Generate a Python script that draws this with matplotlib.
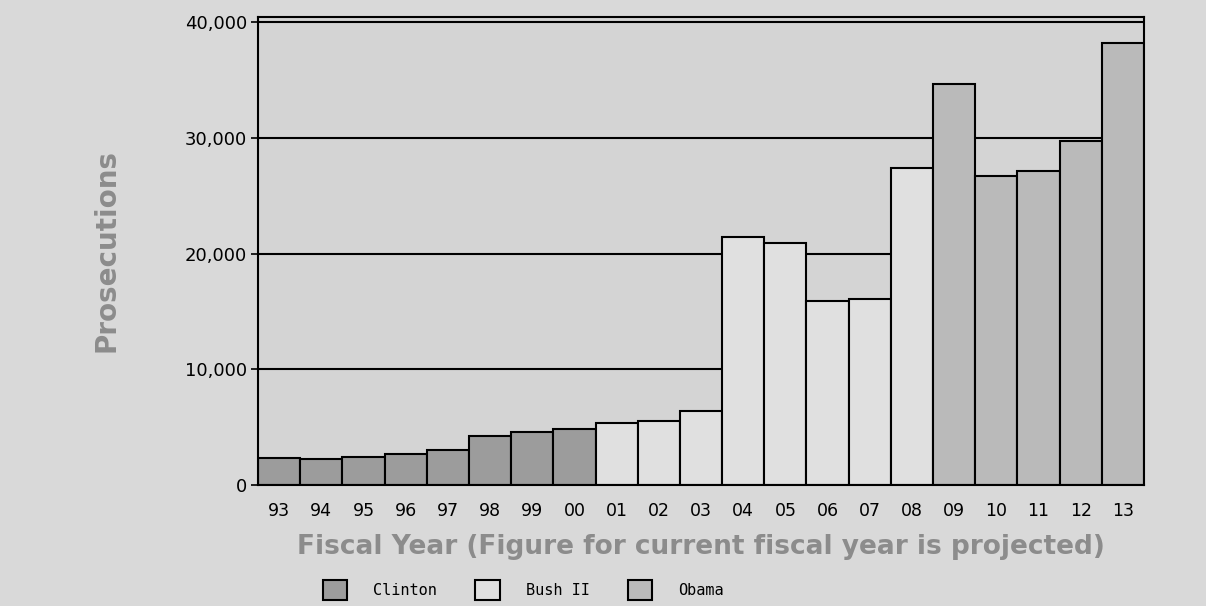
import matplotlib.pyplot as plt
from matplotlib.patches import Patch

years = ['93', '94', '95', '96', '97', '98', '99', '00', '01', '02', '03',
         '04', '05', '06', '07', '08', '09', '10', '11', '12', '13']
prosecutions = [2300, 2250, 2450, 2650, 3000, 4200, 4550, 4850, 5400, 5500, 6400,
                21400, 20900, 15900, 16100, 27400, 34700, 26700, 27100, 29700, 38200]
president = ['Clinton'] * 8 + ['Bush II'] * 8 + ['Obama'] * 5
party_names = ['Clinton', 'Bush II', 'Obama']
party_colors = {'Clinton': '#9c9c9c', 'Bush II': '#e0e0e0', 'Obama': '#bababa'}

bg = '#d9d9d9'
plot_bg = '#d4d4d4'
label_gray = '#8c8c8c'

fig = plt.figure(figsize=(12.06, 6.06), dpi=100, facecolor=bg)
ax = fig.add_axes([258 / 1206, 1 - 485 / 606, (1144 - 258) / 1206, (485 - 17) / 606])
ax.set_facecolor(plot_bg)

# grid behind the bars
for y in [10000, 20000, 30000, 40000]:
    ax.axhline(y, color='black', lw=1.5, zorder=1)

x = list(range(len(years)))
ax.bar(x, prosecutions, width=1.0, color=[party_colors[p] for p in president],
       edgecolor='black', linewidth=1.5, zorder=2)

ax.set_xlim(-0.5, len(years) - 0.5)
ax.set_ylim(0, 40450)
ax.set_yticks([0, 10000, 20000, 30000, 40000])
ax.set_yticklabels(['0', '10,000', '20,000', '30,000', '40,000'])
ax.set_xticks(x)
ax.set_xticklabels(years)
ax.tick_params(axis='y', length=5, width=1.2, labelsize=13, pad=3)
ax.tick_params(axis='x', length=0, labelsize=12.5, pad=12)
for s in ax.spines.values():
    s.set_linewidth(1.5)

ax.set_ylabel('Prosecutions', fontsize=20, fontweight='bold', color=label_gray, labelpad=46)
ax.set_xlabel('Fiscal Year (Figure for current fiscal year is projected)',
              fontsize=19, fontweight='bold', color=label_gray, labelpad=10)

handles = [Patch(facecolor=party_colors[n], edgecolor='black', linewidth=1.5, label=n)
           for n in party_names]
fig.legend(handles=handles, loc='lower left', bbox_to_anchor=(309 / 1206, -0.012),
           ncol=3, frameon=False, prop={'family': 'DejaVu Sans Mono', 'size': 11},
           handlelength=1.6, handleheight=1.6, handletextpad=1.7, columnspacing=2.5)

fig.savefig('out.png', dpi=100, facecolor=bg)
